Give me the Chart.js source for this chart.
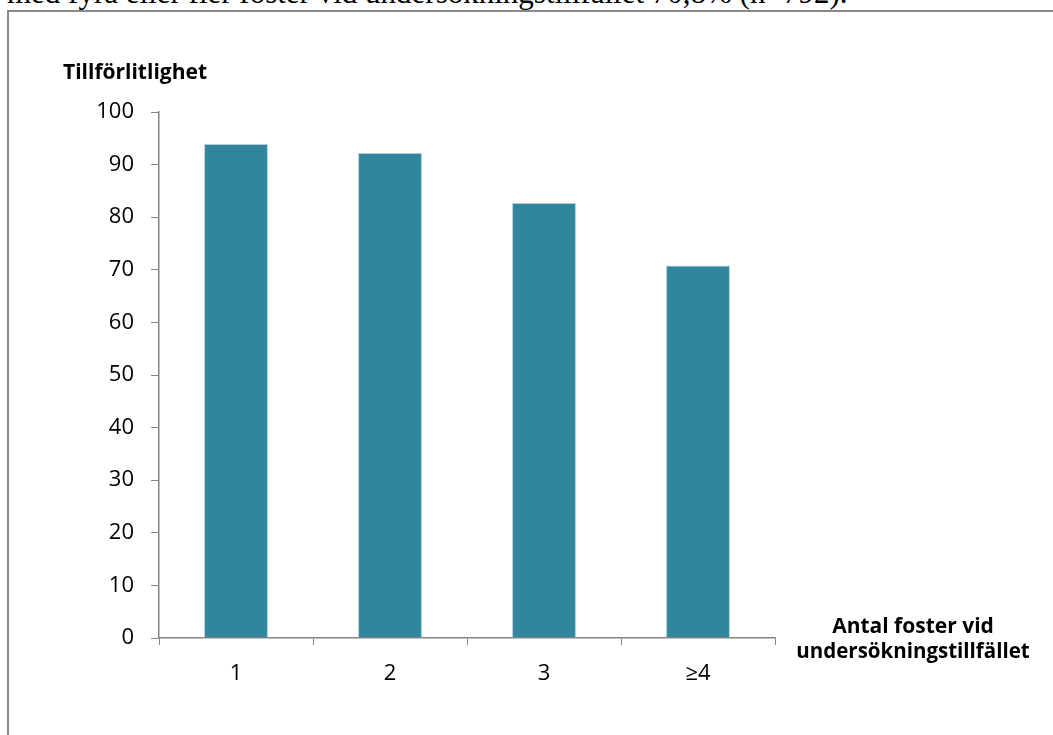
<!DOCTYPE html>
<html>
<head>
<meta charset="utf-8">
<script src="https://cdn.jsdelivr.net/npm/chart.js@4/dist/chart.umd.min.js"></script>
<style>
  body { margin: 0; width: 1053px; height: 735px; overflow: hidden; background: #fff; position: relative; }
  #lead { position: absolute; left: 7px; top: -25px; font-family: "Liberation Serif", "Times New Roman", serif; font-size: 31px; line-height: 36px; color: #000; white-space: nowrap; }
  #frame { position: absolute; left: 7px; top: 10px; width: 1100px; height: 800px; border-left: 2px solid #8a8a8a; border-top: 2px solid #8a8a8a; background: #fff; }
  #wrap { position: absolute; left: 0; top: 0; width: 1053px; height: 735px; }
</style>
</head>
<body>
<div id="lead">med fyra eller fler foster vid undersökningstillfället 70,8% (n=792).</div>
<div id="frame"></div>
<div id="wrap"><canvas id="chart" width="1053" height="735"></canvas></div>
<script>
// tillförlitlighet per antal foster
var categories = ['1', '2', '3', '≥4'];
var reliability = [93.9, 92.2, 82.7, 70.8];
var yTicks = [0, 10, 20, 30, 40, 50, 60, 70, 80, 90, 100];

var yTitle = 'Tillförlitlighet';
var xTitle = ['Antal foster vid', 'undersökningstillfället'];

var axisGrey = '#868686';
var font = '"Open Sans", "Noto Sans", sans-serif';

// axis titles sit outside the plot, horizontal
var axisTitles = {
    id: 'axisTitles',
    afterDraw: function(chart) {
        var ctx = chart.ctx;
        var area = chart.chartArea;
        ctx.save();
        ctx.fillStyle = '#000';
        ctx.textBaseline = 'alphabetic';
        ctx.font = 'bold 21px ' + font;
        ctx.textAlign = 'left';
        ctx.fillText(yTitle, 63, area.top - 33);
        ctx.font = 'bold 21px ' + font;
        ctx.textAlign = 'center';
        ctx.fillText(xTitle[0], area.right + 138, area.bottom - 5);
        ctx.font = 'bold 20.5px ' + font;
        ctx.fillText(xTitle[1], area.right + 138, area.bottom + 20);
        ctx.restore();
    }
};

var ctx = document.getElementById('chart').getContext('2d');
new Chart(ctx, {
    type: 'bar',
    data: {
        labels: categories,
        datasets: [{
            data: reliability,
            backgroundColor: '#31859c',
            borderColor: '#a9d3de',
            borderWidth: 1,
            barPercentage: 1,
            categoryPercentage: 0.415
        }]
    },
    options: {
        responsive: false,
        animation: false,
        devicePixelRatio: 1,
        layout: { padding: { left: 0, top: 112, right: 278, bottom: 0 } },
        plugins: {
            legend: { display: false },
            tooltip: { enabled: false }
        },
        scales: {
            x: {
                grid: { display: true, drawOnChartArea: false, drawTicks: true, tickLength: 7, color: axisGrey, offset: true },
                border: { display: true, color: axisGrey, width: 1.5 },
                ticks: { color: '#000', font: { family: font, size: 22 }, padding: 16, maxRotation: 0 },
                afterFit: function(scale) { scale.height = 735 - 638; }
            },
            y: {
                min: 0,
                max: 100,
                afterBuildTicks: function(scale) {
                    scale.ticks = yTicks.map(function(v) { return { value: v }; });
                },
                grid: { display: true, drawOnChartArea: false, drawTicks: true, tickLength: 8, color: axisGrey },
                border: { display: true, color: axisGrey, width: 1.5 },
                ticks: { color: '#000', font: { family: font, size: 22 }, padding: 17 },
                afterFit: function(scale) { scale.width = 159; }
            }
        }
    },
    plugins: [axisTitles]
});
</script>
</body>
</html>
